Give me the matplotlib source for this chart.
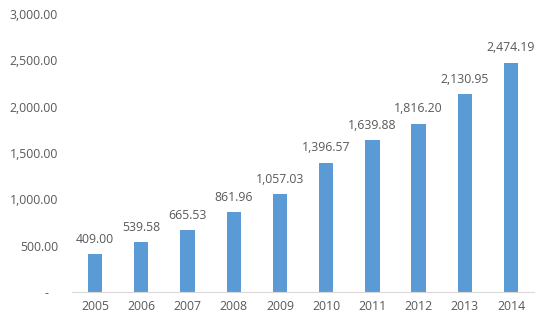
import numpy as np
import matplotlib.pyplot as plt
from matplotlib.ticker import FuncFormatter

# Datos del grafico
anios = ['2005', '2006', '2007', '2008', '2009', '2010', '2011', '2012', '2013', '2014']
valores = [409.00, 539.58, 665.53, 861.96, 1057.03, 1396.57, 1639.88, 1816.20, 2130.95, 2474.19]
ticks_y = [0, 500, 1000, 1500, 2000, 2500, 3000]

gris = '#595959'
azul = '#5B9BD5'

plt.rcParams['font.family'] = ['Open Sans', 'DejaVu Sans']

fig = plt.figure(figsize=(5.45, 3.3), dpi=100)
ax = fig.add_axes([0.132, 0.115, 0.848, 0.843])

x = np.arange(len(anios))
barras = ax.bar(x, valores, width=0.31, color=azul)

# Etiquetas de los valores
for xi, v in zip(x, valores):
    ax.annotate(f'{v:,.2f}', (xi, v), xytext=(0, 6), textcoords='offset points',
                ha='center', va='bottom', fontsize=8.8, color=gris)

ax.set_xlim(-0.5, len(anios) - 0.5)
ax.set_ylim(0, 3000)
ax.set_xticks(x)
ax.set_xticklabels(anios)
ax.set_yticks(ticks_y)

def formato(v, pos):
    if v == 0:
        return '-   '
    return f'{v:,.2f}'

ax.yaxis.set_major_formatter(FuncFormatter(formato))
ax.tick_params(axis='both', length=0, labelsize=8.8, labelcolor=gris)
ax.tick_params(axis='y', pad=10)
ax.tick_params(axis='x', pad=6)

for lado in ['top', 'right', 'left']:
    ax.spines[lado].set_visible(False)
ax.spines['bottom'].set_color('#D9D9D9')

fig.savefig('out.png', dpi=100)
